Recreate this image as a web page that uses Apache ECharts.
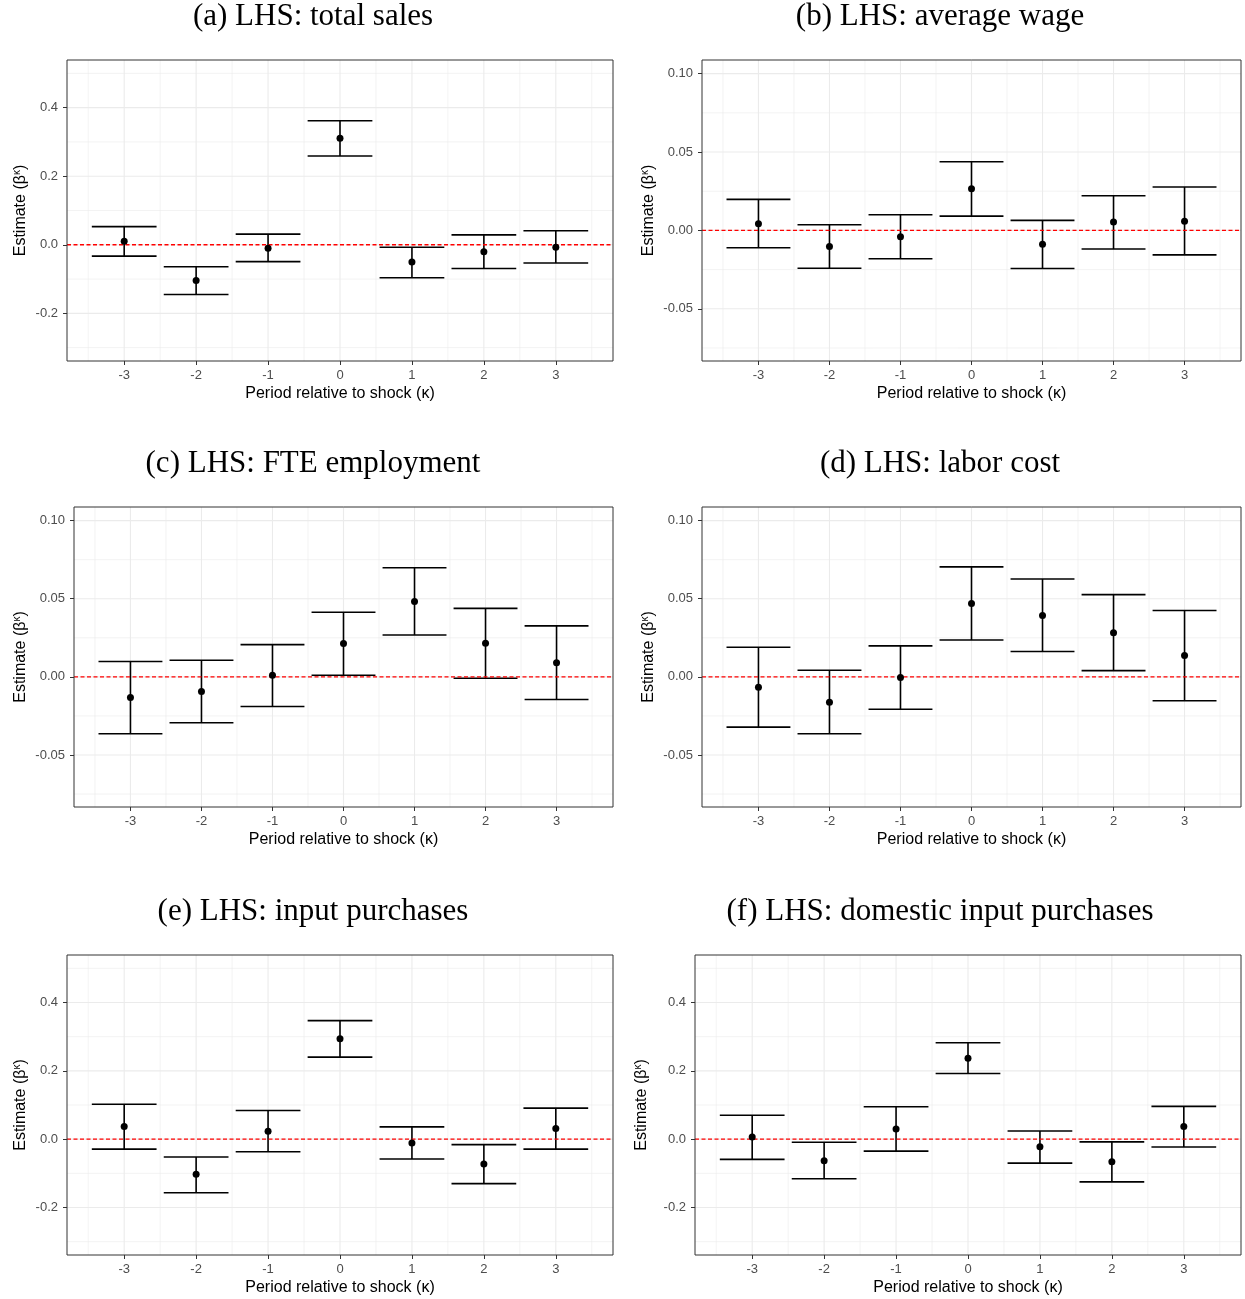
<!DOCTYPE html>
<html>
<head>
<meta charset="utf-8">
<script src="https://cdn.jsdelivr.net/npm/echarts@6/dist/echarts.min.js"></script>
<style>
html,body{margin:0;padding:0;background:#fff;}
#chart{width:1245px;height:1299px;}
</style>
</head>
<body>
<div id="chart"></div>
<script>
// ---------------- data ----------------
const periods = [-3, -2, -1, 0, 1, 2, 3];

const salesEst = [0.010, -0.104, -0.010, 0.311, -0.050, -0.020, -0.007];
const salesLo  = [-0.033, -0.145, -0.049, 0.259, -0.096, -0.069, -0.053];
const salesHi  = [0.053, -0.064, 0.031, 0.362, -0.007, 0.029, 0.041];

const wageEst = [0.0042, -0.0102, -0.0041, 0.0266, -0.0089, 0.0053, 0.0059];
const wageLo  = [-0.0111, -0.0241, -0.0181, 0.0091, -0.0243, -0.0119, -0.0156];
const wageHi  = [0.0198, 0.0036, 0.0100, 0.0438, 0.0064, 0.0221, 0.0277];

const fteEst = [-0.0132, -0.0094, 0.0010, 0.0213, 0.0483, 0.0215, 0.0091];
const fteLo  = [-0.0364, -0.0294, -0.0190, 0.0010, 0.0268, -0.0009, -0.0145];
const fteHi  = [0.0098, 0.0106, 0.0206, 0.0413, 0.0698, 0.0438, 0.0326];

const laborEst = [-0.0066, -0.0162, -0.0004, 0.0470, 0.0393, 0.0283, 0.0136];
const laborLo  = [-0.0322, -0.0364, -0.0207, 0.0236, 0.0162, 0.0040, -0.0153];
const laborHi  = [0.0189, 0.0042, 0.0198, 0.0704, 0.0626, 0.0526, 0.0425];

const inputEst = [0.037, -0.103, 0.023, 0.294, -0.011, -0.073, 0.031];
const inputLo  = [-0.029, -0.157, -0.037, 0.240, -0.058, -0.130, -0.029];
const inputHi  = [0.102, -0.052, 0.084, 0.347, 0.036, -0.016, 0.091];

const domEst = [0.006, -0.063, 0.030, 0.237, -0.022, -0.066, 0.037];
const domLo  = [-0.059, -0.116, -0.035, 0.192, -0.070, -0.125, -0.023];
const domHi  = [0.070, -0.009, 0.095, 0.282, 0.024, -0.008, 0.096];

const titles = [
  '(a) LHS: total sales', '(b) LHS: average wage',
  '(c) LHS: FTE employment', '(d) LHS: labor cost',
  '(e) LHS: input purchases', '(f) LHS: domestic input purchases'
];

// ticks
const xTicks = [-3, -2, -1, 0, 1, 2, 3];
const xMinor = [-3.5, -2.5, -1.5, -0.5, 0.5, 1.5, 2.5, 3.5];
const yTicksBig = [-0.2, 0.0, 0.2, 0.4];
const yMinorBig = [-0.3, -0.1, 0.1, 0.3, 0.5];
const yTicksSmall = [-0.05, 0.00, 0.05, 0.10];
const yMinorSmall = [-0.075, -0.025, 0.025, 0.075];

// ---------------- layout ----------------
const xRange = [-3.795, 3.795];
const yRangeBig = [-0.339, 0.539];
const yRangeSmall = [-0.0833, 0.1087];

const panels = [
  {est: salesEst, lo: salesLo, hi: salesHi, big: true,  grid: {left: 67,  top: 60,  width: 546, height: 301}, nameGap: 38, tx: 313, ty: 17},
  {est: wageEst,  lo: wageLo,  hi: wageHi,  big: false, grid: {left: 702, top: 60,  width: 539, height: 301}, nameGap: 45, tx: 940, ty: 17},
  {est: fteEst,   lo: fteLo,   hi: fteHi,   big: false, grid: {left: 74,  top: 507, width: 539, height: 300}, nameGap: 45, tx: 313, ty: 464},
  {est: laborEst, lo: laborLo, hi: laborHi, big: false, grid: {left: 702, top: 507, width: 539, height: 300}, nameGap: 45, tx: 940, ty: 464},
  {est: inputEst, lo: inputLo, hi: inputHi, big: true,  grid: {left: 67,  top: 955, width: 546, height: 300}, nameGap: 38, tx: 313, ty: 912},
  {est: domEst,   lo: domLo,   hi: domHi,   big: true,  grid: {left: 695, top: 955, width: 546, height: 300}, nameGap: 45, tx: 940, ty: 912}
];

const FONT = '"Liberation Sans", Arial, sans-serif';
const grids = [], xAxes = [], yAxes = [], series = [], graphics = [];

panels.forEach((p, i) => {
  const yTicks = p.big ? yTicksBig : yTicksSmall;
  const yMinor = p.big ? yMinorBig : yMinorSmall;
  const yRange = p.big ? yRangeBig : yRangeSmall;
  const dec = p.big ? 1 : 2;

  grids.push(Object.assign({show: true, borderColor: '#333333', borderWidth: 1, backgroundColor: 'transparent', containLabel: false, z: 6}, p.grid));

  xAxes.push({
    gridIndex: i, type: 'value', min: xRange[0], max: xRange[1], position: 'bottom',
    axisLine: {show: false, onZero: false}, splitLine: {show: false},
    axisTick: {show: true, customValues: xTicks, length: 4, lineStyle: {color: '#333333'}},
    axisLabel: {customValues: xTicks, formatter: v => String(v), color: '#4d4d4d', fontSize: 13, margin: 8, fontFamily: FONT},
    name: 'Period relative to shock (κ)', nameLocation: 'middle', nameGap: 25,
    nameTextStyle: {color: '#000', fontSize: 16, fontFamily: FONT, verticalAlign: 'top'}
  });

  yAxes.push({
    gridIndex: i, type: 'value', min: yRange[0], max: yRange[1], position: 'left',
    axisLine: {show: false, onZero: false}, splitLine: {show: false},
    axisTick: {show: true, customValues: yTicks, length: 4, lineStyle: {color: '#333333'}},
    axisLabel: {customValues: yTicks, formatter: v => v.toFixed(dec), color: '#4d4d4d', fontSize: 13, margin: 9, fontFamily: FONT},
    name: 'Estimate (β{sup|κ})', nameLocation: 'middle', nameGap: p.nameGap,
    nameTextStyle: {
      color: '#000', fontSize: 16, fontFamily: FONT,
      rich: {sup: {fontSize: 10, fontFamily: FONT, color: '#000', verticalAlign: 'top', padding: [0, 0, 7, 0]}}
    }
  });

  // gridlines: one item per line -> [value, orientation (0 = vertical, 1 = horizontal), major flag]
  const gridItems = [];
  xMinor.forEach(v => gridItems.push([v, 0, 0]));
  yMinor.forEach(v => gridItems.push([v, 1, 0]));
  xTicks.forEach(v => gridItems.push([v, 0, 1]));
  yTicks.forEach(v => gridItems.push([v, 1, 1]));
  series.push({
    type: 'custom', xAxisIndex: i, yAxisIndex: i, z: 1, silent: true,
    data: gridItems,
    encode: {x: [], y: []},
    renderItem: (params, api) => {
      const cs = params.coordSys;
      const v = api.value(0), dir = api.value(1), major = api.value(2);
      const w = major ? 1.1 : 0.6;
      if (dir === 0) {
        const px = api.coord([v, yRange[0]])[0];
        return {type: 'line', shape: {x1: px, y1: cs.y, x2: px, y2: cs.y + cs.height}, style: {stroke: '#ebebeb', lineWidth: w}};
      }
      const py = api.coord([xRange[0], v])[1];
      return {type: 'line', shape: {x1: cs.x, y1: py, x2: cs.x + cs.width, y2: py}, style: {stroke: '#ebebeb', lineWidth: w}};
    }
  });

  // error bars
  series.push({
    type: 'custom', xAxisIndex: i, yAxisIndex: i, z: 3, silent: true,
    data: periods.map((k, j) => [k, p.lo[j], p.hi[j]]),
    encode: {x: 0, y: [1, 2]},
    renderItem: (params, api) => {
      const x = api.value(0), lo = api.value(1), hi = api.value(2);
      const top = api.coord([x, hi]), bot = api.coord([x, lo]);
      const tl = api.coord([x - 0.45, hi]), tr = api.coord([x + 0.45, hi]);
      const bl = api.coord([x - 0.45, lo]), br = api.coord([x + 0.45, lo]);
      const st = {stroke: '#000', lineWidth: 1.6};
      return {type: 'group', children: [
        {type: 'line', shape: {x1: top[0], y1: top[1], x2: bot[0], y2: bot[1]}, style: st},
        {type: 'line', shape: {x1: tl[0], y1: tl[1], x2: tr[0], y2: tr[1]}, style: st},
        {type: 'line', shape: {x1: bl[0], y1: bl[1], x2: br[0], y2: br[1]}, style: st}
      ]};
    }
  });

  // zero reference line
  series.push({
    type: 'custom', xAxisIndex: i, yAxisIndex: i, z: 4, silent: true,
    data: [[0]],
    encode: {x: [], y: []},
    renderItem: (params, api) => {
      const cs = params.coordSys;
      const py = api.coord([xRange[0], api.value(0)])[1];
      return {type: 'line', shape: {x1: cs.x, y1: py, x2: cs.x + cs.width, y2: py},
        style: {stroke: '#ff0000', lineWidth: 1.4, lineDash: [4, 2.5]}};
    }
  });

  // point estimates
  series.push({
    type: 'scatter', xAxisIndex: i, yAxisIndex: i, z: 5, silent: true,
    symbol: 'circle', symbolSize: 7, itemStyle: {color: '#000', opacity: 1},
    data: periods.map((k, j) => [k, p.est[j]])
  });

  graphics.push({
    type: 'text', x: p.tx, y: p.ty, silent: true,
    style: {text: titles[i], fill: '#000', font: '31px "Liberation Serif", "DejaVu Serif", serif', textAlign: 'center', textVerticalAlign: 'middle'}
  });
});

const chart = echarts.init(document.getElementById('chart'), null, {renderer: 'canvas'});
chart.setOption({
  animation: false,
  backgroundColor: '#ffffff',
  grid: grids,
  xAxis: xAxes,
  yAxis: yAxes,
  series: series,
  graphic: graphics
});
</script>
</body>
</html>
